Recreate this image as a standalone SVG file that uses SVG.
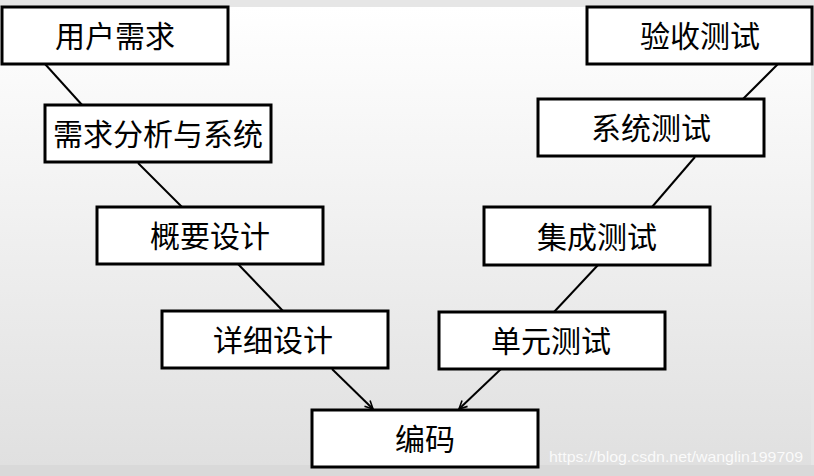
<svg xmlns="http://www.w3.org/2000/svg" width="814" height="476" viewBox="0 0 814 476">
<defs>
<linearGradient id="bg" x1="0" y1="0" x2="0" y2="1">
<stop offset="0" stop-color="#ffffff"/>
<stop offset="1" stop-color="#e0e0e0"/>
</linearGradient>
<marker id="arr" viewBox="0 0 10 10" refX="9" refY="5" markerWidth="5" markerHeight="5" orient="auto" markerUnits="strokeWidth">
<path d="M1,1 L9,5 L1,9" fill="none" stroke="#000" stroke-width="1.6"/>
</marker>
<style>
.box{fill:#fff;stroke:#000;stroke-width:3}
.lbl{font-family:"Noto Sans CJK SC","Microsoft YaHei",sans-serif;font-size:30px;fill:#000;text-anchor:middle}
.ln{stroke:#000;stroke-width:2;fill:none}
</style>
</defs>
<rect x="0" y="0" width="814" height="476" fill="#e6e6e6"/>
<rect x="0" y="7" width="811" height="458" fill="url(#bg)"/>
<rect x="0" y="465" width="814" height="11" fill="#d9d9d9"/>
<g id="connectors">
<line class="ln" x1="45" y1="64" x2="83" y2="106"/>
<line class="ln" x1="138" y1="163" x2="182" y2="207"/>
<line class="ln" x1="238" y1="264" x2="283" y2="311"/>
<line class="ln" x1="332" y1="369" x2="373" y2="409" marker-end="url(#arr)"/>
<line class="ln" x1="778" y1="64" x2="743" y2="99"/>
<line class="ln" x1="695" y1="157" x2="652" y2="207"/>
<line class="ln" x1="598" y1="265" x2="554" y2="312"/>
<line class="ln" x1="501" y1="369" x2="459" y2="409" marker-end="url(#arr)"/>
</g>
<g id="n1"><rect class="box" x="2" y="7" width="226" height="57"/><text class="lbl" x="115" y="47">用户需求</text></g>
<g id="n2"><rect class="box" x="45" y="105" width="226" height="57"/><text class="lbl" x="158" y="145">需求分析与系统</text></g>
<g id="n3"><rect class="box" x="97" y="207" width="226" height="57"/><text class="lbl" x="210" y="247">概要设计</text></g>
<g id="n4"><rect class="box" x="162" y="311" width="226" height="57"/><text class="lbl" x="273" y="351">详细设计</text></g>
<g id="n5"><rect class="box" x="312" y="410" width="226" height="57"/><text class="lbl" x="425" y="450">编码</text></g>
<g id="n6"><rect class="box" x="439" y="312" width="226" height="57"/><text class="lbl" x="551" y="352">单元测试</text></g>
<g id="n7"><rect class="box" x="484" y="207" width="226" height="58"/><text class="lbl" x="597" y="248">集成测试</text></g>
<g id="n8"><rect class="box" x="538" y="99" width="226" height="57"/><text class="lbl" x="651" y="139">系统测试</text></g>
<g id="n9"><rect class="box" x="587" y="7" width="225" height="57"/><text class="lbl" x="700" y="47">验收测试</text></g>
<text x="549" y="462" font-family="Liberation Sans, Arial, sans-serif" font-size="15" fill="#ffffff" fill-opacity="0.85" textLength="254" lengthAdjust="spacingAndGlyphs">https://blog.csdn.net/wanglin199709</text>
</svg>
